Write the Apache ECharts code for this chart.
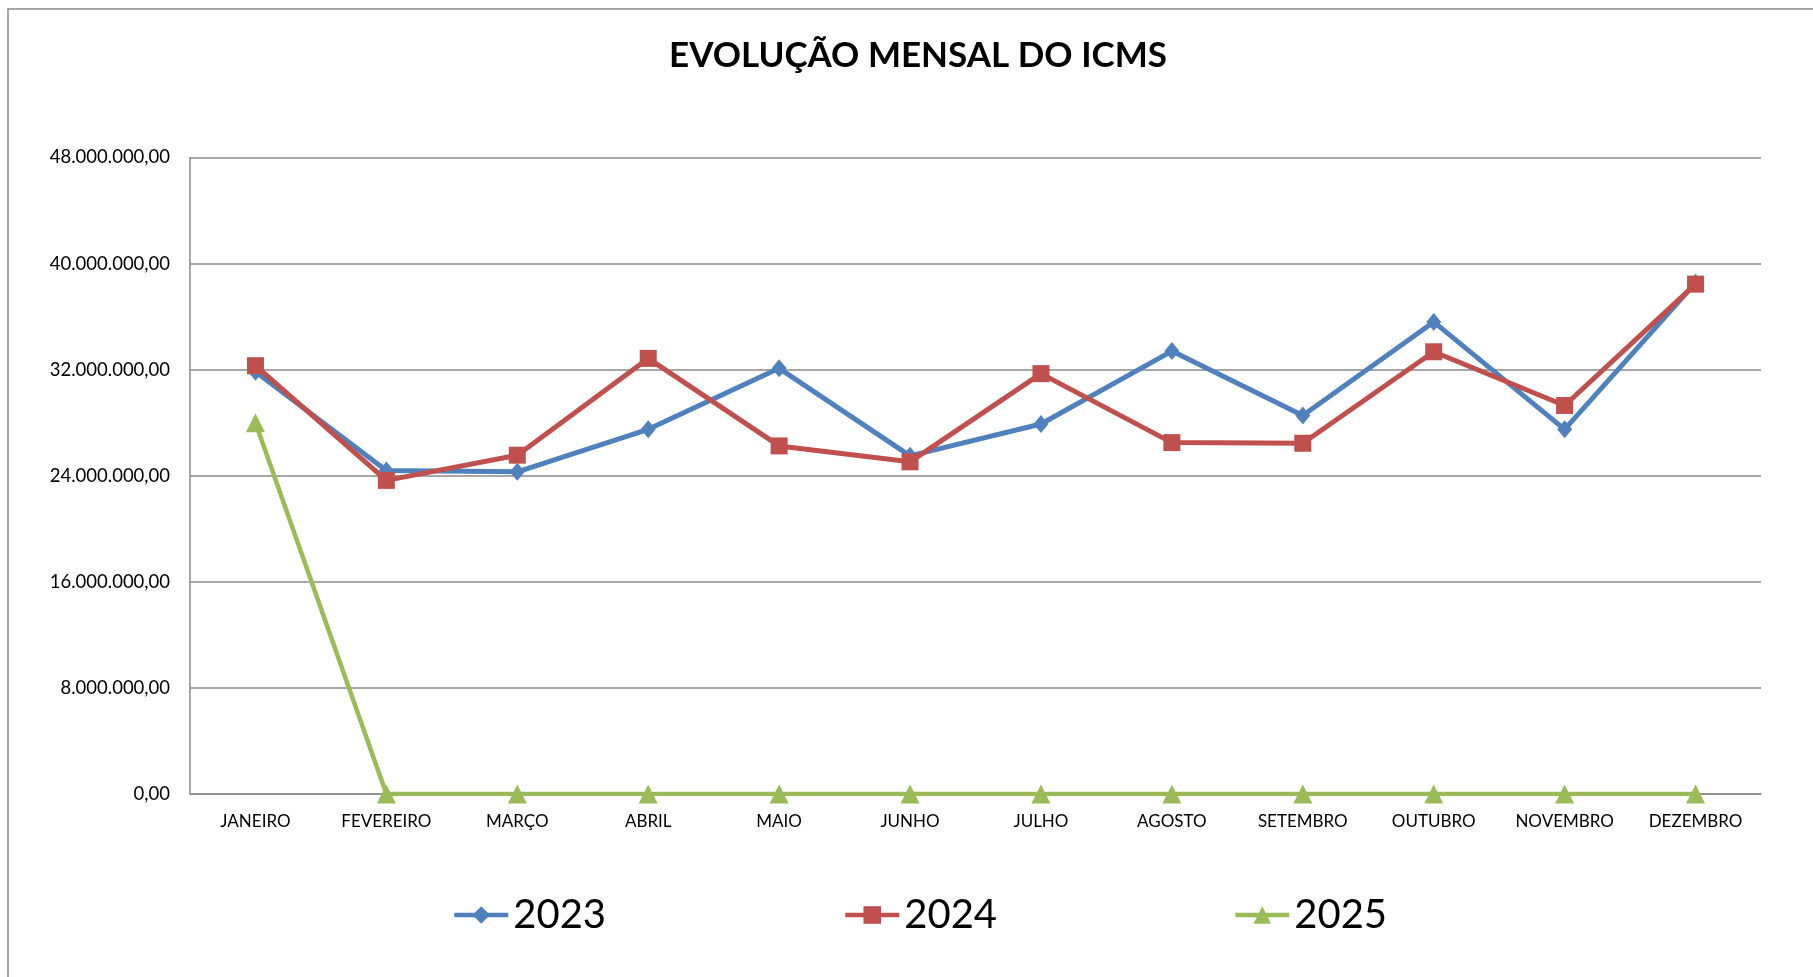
<!DOCTYPE html>
<html>
<head>
<meta charset="utf-8">
<script src="https://cdn.jsdelivr.net/npm/echarts@6/dist/echarts.min.js"></script>
<style>
html,body{margin:0;padding:0;background:#fff;}
#chart{width:1813px;height:977px;}
</style>
</head>
<body>
<div id="chart"></div>
<script>
const months = ['JANEIRO','FEVEREIRO','MARÇO','ABRIL','MAIO','JUNHO','JULHO','AGOSTO','SETEMBRO','OUTUBRO','NOVEMBRO','DEZEMBRO'];
const v2023 = [31850000, 24400000, 24300000, 27500000, 32100000, 25500000, 27900000, 33400000, 28550000, 35600000, 27500000, 38550000];
const v2024 = [32300000, 23650000, 25550000, 32850000, 26250000, 25050000, 31700000, 26500000, 26450000, 33350000, 29300000, 38450000];
const v2025 = [28000000, 0, 0, 0, 0, 0, 0, 0, 0, 0, 0, 0];
const seriesNames = ['2023', '2024', '2025'];
const titleText = 'EVOLUÇÃO MENSAL DO ICMS';

function fmt(v) {
  const int = Math.round(v).toString().replace(/\B(?=(\d{3})+(?!\d))/g, '.');
  return int + ',00';
}

const FONT = 'Lato, "Open Sans", sans-serif';
const chart = echarts.init(document.getElementById('chart'), null, {renderer: 'canvas'});

function legendFor(name, left) {
  return {
    data: [name], left: left, top: 895, orient: 'horizontal', padding: 0,
    itemWidth: 54, itemHeight: 22, itemGap: 5,
    lineStyle: {width: 4.5},
    textStyle: {fontFamily: FONT, fontSize: 40, color: '#000'},
    selectedMode: false
  };
}

chart.setOption({
  animation: false,
  backgroundColor: '#fff',
  title: {
    text: titleText, left: 913, textAlign: 'center', top: 33,
    textStyle: {fontFamily: FONT, fontSize: 35, fontWeight: 'bold', color: '#000'}
  },
  graphic: [{
    type: 'rect', shape: {x: 8, y: 9, width: 1820, height: 990},
    style: {fill: 'none', stroke: '#8a8a8a', lineWidth: 1.5}, silent: true, z: -1
  }],
  legend: [legendFor(seriesNames[0], 452), legendFor(seriesNames[1], 843), legendFor(seriesNames[2], 1233)],
  grid: {left: 190, right: 52, top: 157.5, bottom: 183, containLabel: false},
  xAxis: {
    type: 'category', data: months, boundaryGap: true,
    axisLine: {lineStyle: {color: '#8a8a8a', width: 1.5}},
    axisTick: {show: false},
    axisLabel: {fontFamily: FONT, fontSize: 17, color: '#000', margin: 19, interval: 0}
  },
  yAxis: {
    type: 'value', min: 0, max: 48000000, interval: 8000000,
    axisLine: {show: true, lineStyle: {color: '#8a8a8a', width: 1.5}},
    axisTick: {show: false},
    splitLine: {lineStyle: {color: '#8a8a8a', width: 1.5}},
    axisLabel: {fontFamily: FONT, fontSize: 18.5, color: '#000', margin: 20, formatter: fmt}
  },
  series: [
    {name: seriesNames[0], type: 'line', data: v2023, symbol: 'diamond', symbolSize: [15, 18],
     lineStyle: {color: '#4F81BD', width: 5}, itemStyle: {color: '#4F81BD'}},
    {name: seriesNames[1], type: 'line', data: v2024, symbol: 'rect', symbolSize: 17,
     lineStyle: {color: '#C0504D', width: 5}, itemStyle: {color: '#C0504D'}},
    {name: seriesNames[2], type: 'line', data: v2025, symbol: 'triangle', symbolSize: 19,
     lineStyle: {color: '#9BBB59', width: 4.5}, itemStyle: {color: '#9BBB59'}}
  ]
});
</script>
</body>
</html>
